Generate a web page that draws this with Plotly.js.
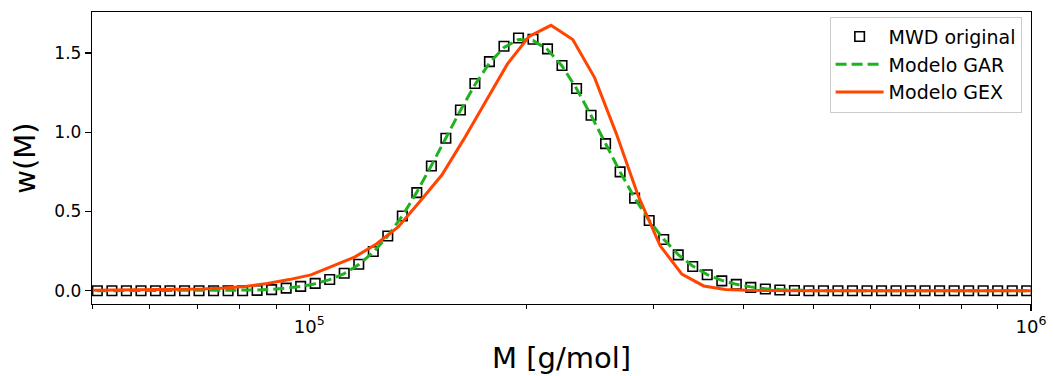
<!DOCTYPE html>
<html>
<head>
<meta charset="utf-8">
<script src="https://cdn.plot.ly/plotly-3.0.1.min.js"></script>
<style>
html,body{margin:0;padding:0;background:#fff;}
#chart{width:1054px;height:376px;}
</style>
</head>
<body>
<div id="chart"></div>
<script>
// Molar mass grid of the original MWD (g/mol)
const M_data = [50860, 53280, 55800, 58460, 61230, 64120, 67170, 70350, 73690, 77190,
  80840, 84670, 88680, 92900, 97300, 101910, 106740, 111800, 117110, 122660,
  128470, 134560, 140930, 147640, 154630, 161960, 169630, 177670, 186120, 194940,
  204170, 213850, 223980, 234630, 245740, 257380, 269580, 282350, 295800, 309810,
  324490, 339860, 355960, 372900, 390570, 409070, 428450, 448750, 470110, 492380,
  515710, 540140, 565730, 592660, 620730, 650140, 680940, 713200, 747150, 782550,
  819620, 858450, 899120, 941890, 986510];
const w_data = [0, 0, 0, 0, 0, 0, 0, 0, 0, 0,
  0, 0.002, 0.007, 0.016, 0.027, 0.046, 0.071, 0.110, 0.167, 0.247,
  0.345, 0.471, 0.619, 0.787, 0.962, 1.140, 1.308, 1.446, 1.543, 1.595,
  1.587, 1.526, 1.421, 1.276, 1.107, 0.928, 0.750, 0.584, 0.443, 0.323,
  0.226, 0.153, 0.101, 0.062, 0.040, 0.021, 0.011, 0.004, 0.001, 0,
  0, 0, 0, 0, 0, 0, 0, 0, 0, 0,
  0, 0, 0, 0, 0];
// GAR model evaluated on the same grid
const w_gar = [0, 0, 0, 0, 0, 0, 0, 0, 0, 0.001,
  0.002, 0.004, 0.008, 0.015, 0.026, 0.044, 0.070, 0.108, 0.165, 0.243,
  0.345, 0.472, 0.622, 0.790, 0.965, 1.138, 1.300, 1.437, 1.535, 1.585,
  1.580, 1.522, 1.418, 1.275, 1.106, 0.926, 0.750, 0.586, 0.443, 0.324,
  0.228, 0.155, 0.102, 0.065, 0.040, 0.024, 0.013, 0.007, 0.003, 0.001,
  0, 0, 0, 0, 0, 0, 0, 0, 0, 0,
  0, 0, 0, 0, 0];
// GEX model grid and values
const M_gex = [50119, 53725, 57611, 61760, 66214, 71013, 76102, 81583, 87480, 93778,
  100531, 107786, 115546, 123880, 132820, 142400, 152650, 163680, 175470, 188110,
  201670, 216220, 231780, 248490, 266390, 285560, 306200, 328250, 351890, 377240,
  404570, 433700, 464940, 498620, 534530, 573040, 614550, 658810, 706260, 757420,
  811970, 870450, 933440, 1000000];
const w_gex = [0.002, 0.003, 0.004, 0.006, 0.008, 0.011, 0.017, 0.027, 0.045, 0.070,
  0.100, 0.155, 0.212, 0.295, 0.402, 0.565, 0.730, 0.955, 1.190, 1.430,
  1.605, 1.675, 1.585, 1.345, 0.990, 0.600, 0.285, 0.105, 0.030, 0.008,
  0.002, 0, 0, 0, 0, 0, 0, 0, 0, 0,
  0, 0, 0, 0];
const seriesNames = ['MWD original', 'Modelo GAR', 'Modelo GEX'];
const majorTicks = [1e5, 1e6];
const majorTickText = ['10<sup>5</sup>', '10<sup>6</sup>'];
const minorTicks = [5e4, 6e4, 7e4, 8e4, 9e4, 2e5, 3e5, 4e5, 5e5, 6e5, 7e5, 8e5, 9e5];
const yTicks = [0, 0.5, 1.0, 1.5];

const FONT = 'DejaVu Sans, sans-serif';

const traces = [
  {x: M_data, y: w_data, name: seriesNames[0], type: 'scatter', mode: 'markers',
   marker: {symbol: 'square-open', size: 9.5, color: '#000000', line: {width: 1.6, color: '#000000'}},
   cliponaxis: true},
  {x: M_data, y: w_gar, name: seriesNames[1], type: 'scatter', mode: 'lines',
   line: {color: '#1fb21f', width: 3, dash: '11px,5px'}},
  {x: M_gex, y: w_gex, name: seriesNames[2], type: 'scatter', mode: 'lines',
   line: {color: '#ff4500', width: 3}}
];

const layout = {
  width: 1054, height: 376,
  margin: {l: 92, r: 22.5, t: 12, b: 72},
  paper_bgcolor: '#ffffff', plot_bgcolor: '#ffffff',
  font: {family: FONT, color: '#000000', size: 17},
  showlegend: true,
  legend: {x: 0.99, y: 0.984, xanchor: 'right', yanchor: 'top',
    bgcolor: 'rgba(255,255,255,0.8)', bordercolor: '#cccccc', borderwidth: 1,
    font: {family: FONT, size: 19, color: '#000000'}, itemwidth: 48,
    tracegroupgap: 0},
  xaxis: {type: 'log', range: [Math.log10(5e4), 6],
    showline: true, mirror: true, linecolor: '#000000', linewidth: 1.2,
    showgrid: false, zeroline: false,
    tickmode: 'array', tickvals: majorTicks, ticktext: majorTickText,
    ticks: 'outside', ticklen: 6, tickwidth: 1.2, tickcolor: '#000000',
    tickfont: {family: FONT, size: 18},
    minor: {tickmode: 'array', tickvals: minorTicks, ticks: 'outside', ticklen: 3.5, tickwidth: 1, tickcolor: '#000000', showgrid: false},
    title: {text: 'M [g/mol]', font: {family: FONT, size: 29}, standoff: 12},
    automargin: false},
  yaxis: {range: [-0.084, 1.759],
    showline: true, mirror: true, linecolor: '#000000', linewidth: 1.2,
    showgrid: false, zeroline: false,
    tickmode: 'array', tickvals: yTicks, tickformat: '.1f',
    ticks: 'outside', ticklen: 6, tickwidth: 1.2, tickcolor: '#000000',
    tickfont: {family: FONT, size: 17},
    title: {text: 'w(M)', font: {family: FONT, size: 29}, standoff: 10},
    automargin: false}
};

Plotly.newPlot('chart', traces, layout, {staticPlot: true, displayModeBar: false});
</script>
</body>
</html>
